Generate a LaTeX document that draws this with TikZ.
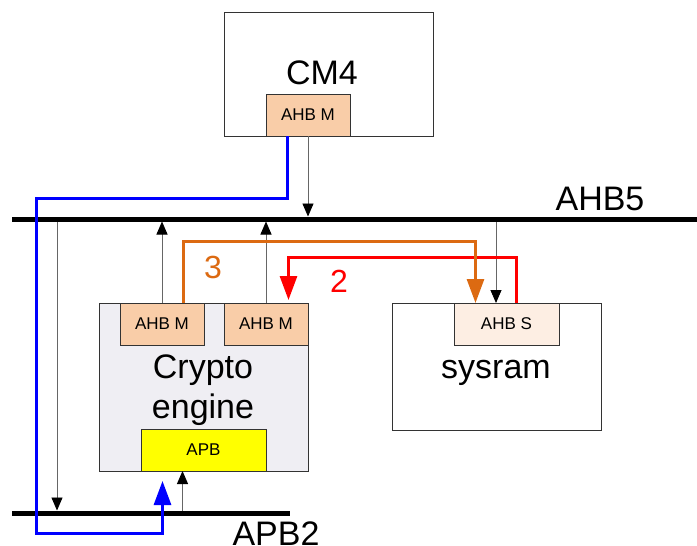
\documentclass[tikz,border=0pt]{standalone}
\usepackage{fontspec}
\setmainfont{Liberation Sans}
\usetikzlibrary{arrows.meta,calc}
\definecolor{peach}{HTML}{F9CDA8}
\definecolor{paleS}{HTML}{FDEEE3}
\definecolor{cryptobg}{HTML}{EFEEF3}
\definecolor{orng}{HTML}{DC6A12}
\definecolor{apbyel}{HTML}{FFFF00}
\begin{document}
\begin{tikzpicture}[x=1pt,y=-1pt,
  blk/.style={draw=black!80, line width=0.7pt, inner sep=0pt, outer sep=0pt, anchor=north west},
  port/.style={blk, fill=peach, font=\fontsize{17}{19}\selectfont, minimum width=84pt, minimum height=42pt},
  bus/.style={line width=5pt},
  thinarr/.style={draw=black!60, line width=0.9pt, -{Triangle[width=11pt,length=13pt,color=black]}},
  fatarr/.style={line width=3pt, -{Triangle[width=17pt,length=24pt]}},
  big/.style={font=\fontsize{34}{38}\selectfont, anchor=base, inner sep=0pt},
]
\useasboundingbox (0,0) rectangle (697,546);

% boxes
\node[blk, fill=white, minimum width=209pt, minimum height=124pt] (cm4) at (224,12) {};
\node[port] (cm4m) at (266,94) {AHB M};
\node[big] (cm4lbl) at (322,84) {CM4};

\node[blk, fill=cryptobg, minimum width=209pt, minimum height=168pt] (crypto) at (99,303) {};
\node[port] (ce1) at (120,303) {AHB M};
\node[port] (ce2) at (224,303) {AHB M};
\node[blk, fill=apbyel, font=\fontsize{17}{19}\selectfont, minimum width=125pt, minimum height=42pt] (apb) at (141,429) {APB};
\node[big] (crl1) at (203,378) {Crypto};
\node[big] (crl2) at (203,418) {engine};

\node[blk, fill=white, minimum width=209pt, minimum height=127pt] (sysram) at (392,303) {};
\node[blk, fill=paleS, font=\fontsize{17}{19}\selectfont, minimum width=105pt, minimum height=42pt] (ahbs) at (454,303) {AHB S};
\node[big] (srl) at (496,378) {sysram};

% bus coordinates
\coordinate (ahb5W) at (12,219);
\coordinate (ahb5E) at (697,219);
\coordinate (apb2W) at (12,513);
\coordinate (apb2E) at (290,513);

% thin arrows
\coordinate (sx) at ($(ahbs.north)+(-10.5,0)$);
\coordinate (lx) at (57,0);
\coordinate (ax) at ($(apb.south)+(-21,0)$);
\draw[thinarr, shorten >=2.5pt] (cm4m.south) -- (cm4m.south |- ahb5W);
\draw[thinarr, shorten >=2.5pt] (ce1.north) -- (ce1.north |- ahb5W);
\draw[thinarr, shorten >=2.5pt] (ce2.north) -- (ce2.north |- ahb5W);
\draw[thinarr] (ahb5W -| sx) -- (sx);
\draw[thinarr, shorten >=2.5pt] (ahb5W -| lx) -- (apb2W -| lx);
\draw[thinarr] (apb2W -| ax) -- (ax);

% buses
\draw[bus] (ahb5W) -- (ahb5E);
\draw[bus] (apb2W) -- (apb2E);
\node[big] (ahb5lbl) at (600,210) {AHB5};
\node[big] (apb2lbl) at (276,545) {APB2};

% coloured paths
\coordinate (bTurn) at (36,198);
\coordinate (bBot) at (36,533);
\draw[fatarr, blue] ($(cm4m.south)+(-21,0)$) |- (bTurn) -- (bBot) -| ($(apb.south)+(-41,10)$);
\draw[fatarr, red] ($(ahbs.north)+(10,0)$) -- ++(0,-46) -| ($(ce2.north)+(22.5,-3)$);
\draw[fatarr, orng] ($(ce1.north)+(21,0)$) -- ++(0,-62) -| ($(ahbs.north)+(-31,0)$);

\node[big, text=orng, font=\fontsize{32}{36}\selectfont] (n3) at (213,278) {3};
\node[big, text=red, font=\fontsize{32}{36}\selectfont] (n2) at (339,292) {2};
\end{tikzpicture}
\end{document}
